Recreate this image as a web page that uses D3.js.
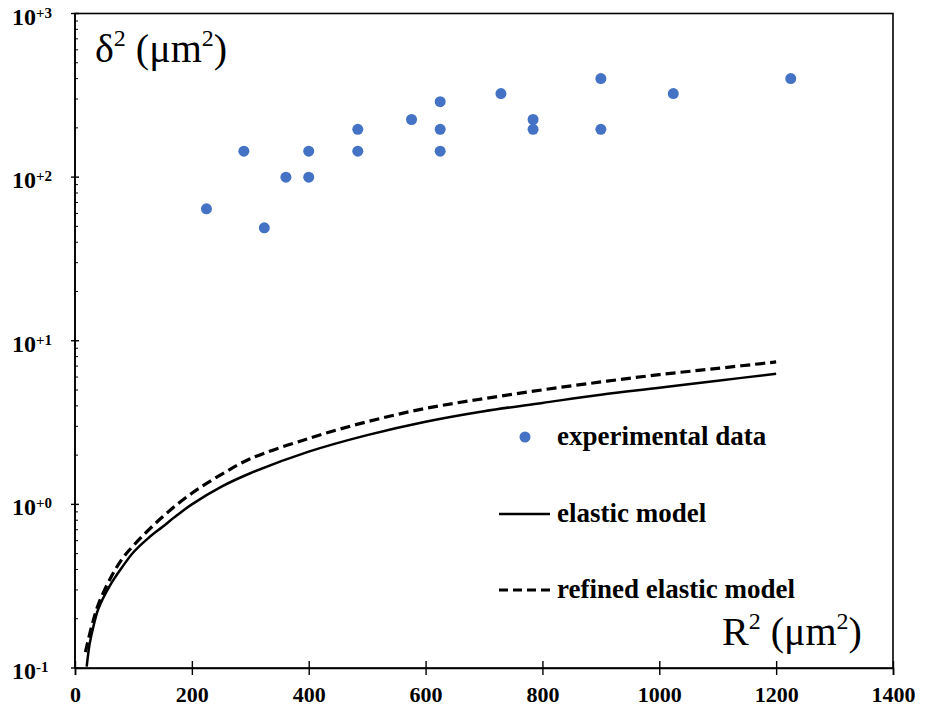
<!DOCTYPE html>
<html>
<head>
<meta charset="utf-8">
<script src="https://cdn.jsdelivr.net/npm/d3@7"></script>
<style>
  body { margin: 0; background: #fff; }
</style>
</head>
<body>
<div id="chart"></div>
<script>
// experimental data (R^2, delta^2) in um^2
const expR2 = [225, 289, 324, 361, 400, 400, 484, 484, 576, 625, 625, 625, 729, 784, 784, 900, 900, 1024, 1225];
const expD2 = [64, 144, 49, 100, 144, 100, 196, 144, 225, 289, 196, 144, 324, 225, 196, 400, 196, 324, 400];

// elastic model curve
const elasticR2 = [20, 25, 30, 40, 60, 80, 100, 125, 150, 175, 200, 250, 300, 400, 500, 600, 700, 800, 900, 1000, 1100, 1200];
const elasticD2 = [0.102, 0.14, 0.17, 0.23, 0.32, 0.41, 0.51, 0.62, 0.73, 0.86, 1.0, 1.28, 1.55, 2.1, 2.65, 3.2, 3.71, 4.17, 4.68, 5.16, 5.7, 6.28];

// refined elastic model curve
const refinedR2 = [18, 20, 30, 40, 60, 80, 100, 150, 200, 250, 300, 400, 500, 600, 700, 800, 900, 1000, 1100, 1200];
const refinedD2 = [0.125, 0.135, 0.188, 0.245, 0.35, 0.46, 0.56, 0.84, 1.17, 1.52, 1.9, 2.53, 3.2, 3.86, 4.43, 5.01, 5.6, 6.21, 6.78, 7.42];

const xTicks = [0, 200, 400, 600, 800, 1000, 1200, 1400];
const yTicks = [0.1, 1, 10, 100, 1000];
const yTickExp = ['-1', '+0', '+1', '+2', '+3'];

const legendLabels = ['experimental data', 'elastic model', 'refined elastic model'];

const W = 925, H = 715;
const m = { left: 75, right: 893, top: 13.5, bottom: 668 };
const blue = '#4472c4';
const serif = '"Liberation Serif", "Times New Roman", serif';

const svg = d3.select('#chart').append('svg')
  .attr('width', W).attr('height', H);

const x = d3.scaleLinear().domain([0, 1400]).range([m.left, m.right]);
const y = d3.scaleLog().domain([0.1, 1000]).range([m.bottom, m.top]);

// plot frame
svg.append('rect')
  .attr('x', m.left).attr('y', m.top)
  .attr('width', m.right - m.left).attr('height', m.bottom - m.top)
  .attr('fill', 'none').attr('stroke', '#000').attr('stroke-width', 1.6);

// x axis, ticks cross the line
svg.append('g')
  .attr('transform', `translate(0,${m.bottom})`)
  .call(d3.axisBottom(x).tickValues(xTicks).tickSize(7).tickFormat(d3.format('d')))
  .call(g => g.attr('font-family', serif).attr('font-size', 22))
  .call(g => g.select('.domain').attr('stroke', '#000').attr('stroke-width', 1.6))
  .call(g => g.selectAll('.tick line').attr('y1', -7).attr('y2', 7).attr('stroke-width', 1.4))
  .call(g => g.selectAll('.tick text').attr('y', 34).attr('dy', 0)
    .attr('font-weight', 'bold').attr('fill', '#000'));

// y axis, major ticks cross, minor ticks inside
const minor = [];
for (let e = -1; e < 3; e++) {
  for (let k = 2; k <= 9; k++) minor.push(k * Math.pow(10, e));
}
const yAxis = svg.append('g').attr('transform', `translate(${m.left},0)`);
yAxis.append('line')
  .attr('y1', m.top).attr('y2', m.bottom)
  .attr('stroke', '#000').attr('stroke-width', 1.6);
yAxis.selectAll('line.minor').data(minor).join('line')
  .attr('class', 'minor')
  .attr('x1', 0).attr('x2', 3)
  .attr('y1', d => y(d)).attr('y2', d => y(d))
  .attr('stroke', '#000').attr('stroke-width', 1);
yAxis.selectAll('line.major').data(yTicks).join('line')
  .attr('class', 'major')
  .attr('x1', -4).attr('x2', 4)
  .attr('y1', d => y(d)).attr('y2', d => y(d))
  .attr('stroke', '#000').attr('stroke-width', 1.4);

const yLab = yAxis.selectAll('text.ylab').data(yTicks).join('text')
  .attr('class', 'ylab')
  .attr('x', -63).attr('y', d => y(d) + 11)
  .attr('font-family', serif).attr('font-weight', 'bold')
  .attr('font-size', 24);
yLab.append('tspan').text('10');
yLab.append('tspan')
  .attr('font-size', 15).attr('dy', -7)
  .text((d, i) => yTickExp[i]);

// model curves
const line = d3.line().x(d => x(d[0])).y(d => y(d[1])).curve(d3.curveCatmullRom.alpha(0.5));

svg.append('path')
  .datum(elasticR2.map((r, i) => [r, elasticD2[i]]))
  .attr('d', line)
  .attr('fill', 'none').attr('stroke', '#000').attr('stroke-width', 2.5);

svg.append('path')
  .datum(refinedR2.map((r, i) => [r, refinedD2[i]]))
  .attr('d', line)
  .attr('fill', 'none').attr('stroke', '#000').attr('stroke-width', 3.2)
  .attr('stroke-dasharray', '10,5');

// experimental points
svg.selectAll('circle.exp')
  .data(expR2.map((r, i) => [r, expD2[i]]))
  .join('circle')
  .attr('class', 'exp')
  .attr('cx', d => x(d[0])).attr('cy', d => y(d[1]))
  .attr('r', 5.5).attr('fill', blue);

// axis titles with superscripts
function titled(px, py, parts) {
  const base = 40;
  const t = svg.append('text').attr('x', px).attr('y', py)
    .attr('font-family', serif).attr('font-size', base);
  parts.forEach(([s, pos]) => {
    t.append('tspan')
      .attr('font-size', pos === 'up' ? base * 0.6 : base)
      .attr('dy', pos === 'up' ? -base * 0.4 : pos === 'down' ? base * 0.4 : 0)
      .text(s);
  });
}
titled(95, 62, [['δ', null], ['2', 'up'], [' (μm', 'down'], ['2', 'up'], [')', 'down']]);
titled(722, 645, [['R', null], ['2', 'up'], [' (μm', 'down'], ['2', 'up'], [')', 'down']]);

// legend
const lg = svg.append('g');
lg.append('circle').attr('cx', 525).attr('cy', 437).attr('r', 5.5).attr('fill', blue);
lg.append('line').attr('x1', 499).attr('x2', 550).attr('y1', 514).attr('y2', 514)
  .attr('stroke', '#000').attr('stroke-width', 2.5);
lg.append('line').attr('x1', 499).attr('x2', 550).attr('y1', 590).attr('y2', 590)
  .attr('stroke', '#000').attr('stroke-width', 3.2).attr('stroke-dasharray', '9,5');
lg.selectAll('text').data(legendLabels).join('text')
  .attr('x', 557)
  .attr('y', (d, i) => [445, 522, 598][i])
  .attr('font-family', serif).attr('font-weight', 'bold')
  .attr('font-size', 27)
  .text(d => d);
</script>
</body>
</html>
